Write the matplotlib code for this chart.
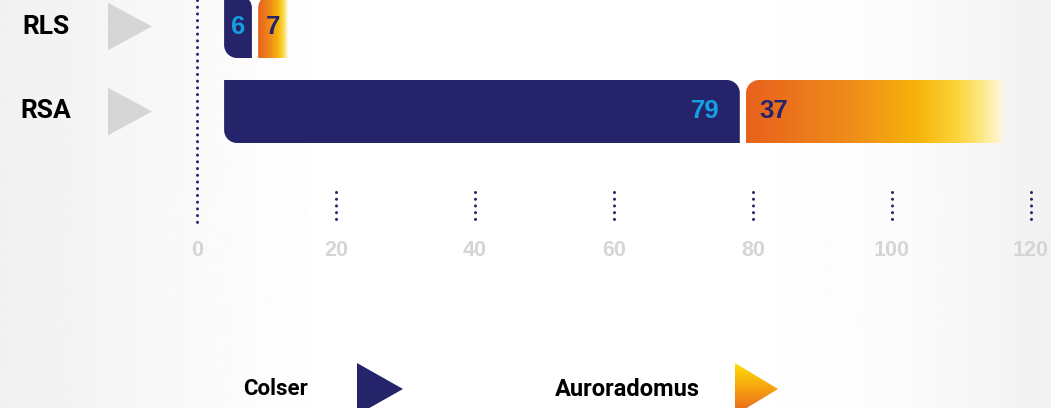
import numpy as np
import matplotlib
matplotlib.use("Agg")
import matplotlib.pyplot as plt
from matplotlib.path import Path
from matplotlib.patches import PathPatch, Polygon
from matplotlib.colors import LinearSegmentedColormap
from matplotlib import font_manager

# data
categories = ["RLS", "RSA"]
colser = [6, 79]
auroradomus = [7, 37]
series_names = ["Colser", "Auroradomus"]
x_ticks = [0, 20, 40, 60, 80, 100, 120]

# style
NAVY = "#25246b"
LIGHT_BLUE = "#159fe0"
TRI_GRAY = "#d6d6d6"
TICK_GRAY = "#d5d5d5"
LABEL_FONT = ["Roboto", "DejaVu Sans"]

installed = {f.name for f in font_manager.fontManager.ttflist}
if "Liberation Sans Narrow" in installed:
    NUM_FONT = ["Liberation Sans Narrow", "DejaVu Sans"]
    NARROW = True
else:
    NUM_FONT = ["Liberation Sans", "DejaVu Sans"]
    NARROW = False

W, H = 1051, 408
PX_PER_UNIT = 6.95     # horizontal pixels per value unit
ROW_PX = 85            # vertical pixels between rows
X0_PX = 197            # pixel of value 0
Y0_PX = 26.5           # pixel of first row

BAR_H = 63 / ROW_PX
INSET = 3.9            # bars start a little right of the axis
MIN_W = 4.0
GAP = 0.9
RX = 13 / PX_PER_UNIT
RY = 13 / ROW_PX

aurora_cmap = LinearSegmentedColormap.from_list(
    "aurora",
    [(0.0, "#e8611d"), (0.4, "#ef8b1a"), (0.67, "#f6b50a"),
     (0.82, "#fcd43a"), (0.92, "#fde98c"), (1.0, "#fdf8e2")],
)
tri_cmap = LinearSegmentedColormap.from_list(
    "tri", [(0.0, "#fde100"), (0.5, "#f5a011"), (1.0, "#e9601d")]
)


def rounded_bar(x0, x1, yc, h, corners):
    """Path of a bar with some rounded corners (visual top = smaller y)."""
    yt, yb = yc - h / 2, yc + h / 2
    r = {c: (RX, RY) if c in corners else (0.0, 0.0) for c in ("tl", "tr", "br", "bl")}
    k = 0.5523
    verts, codes = [], []

    def line(p):
        verts.append(p)
        codes.append(Path.LINETO)

    def curve(c1, c2, p):
        verts.extend([c1, c2, p])
        codes.extend([Path.CURVE4] * 3)

    verts.append((x0 + r["tl"][0], yt))
    codes.append(Path.MOVETO)
    line((x1 - r["tr"][0], yt))
    curve((x1 - r["tr"][0] * (1 - k), yt), (x1, yt + r["tr"][1] * (1 - k)),
          (x1, yt + r["tr"][1]))
    line((x1, yb - r["br"][1]))
    curve((x1, yb - r["br"][1] * (1 - k)), (x1 - r["br"][0] * (1 - k), yb),
          (x1 - r["br"][0], yb))
    line((x0 + r["bl"][0], yb))
    curve((x0 + r["bl"][0] * (1 - k), yb), (x0, yb - r["bl"][1] * (1 - k)),
          (x0, yb - r["bl"][1]))
    line((x0, yt + r["tl"][1]))
    curve((x0, yt + r["tl"][1] * (1 - k)), (x0 + r["tl"][0] * (1 - k), yt),
          (x0 + r["tl"][0], yt))
    verts.append((x0 + r["tl"][0], yt))
    codes.append(Path.CLOSEPOLY)
    return Path(verts, codes)


def px_x(px):
    return (px - X0_PX) / PX_PER_UNIT


def px_y(py):
    return (py - Y0_PX) / ROW_PX


def draw_background(ax):
    stops_x = [0.0, 0.25, 0.32, 0.7, 0.86, 1.0]
    stops_v = [0.945, 0.99, 1.0, 1.0, 0.985, 0.948]
    grad = np.interp(np.linspace(0, 1, 400), stops_x, stops_v)
    ax.imshow(grad[np.newaxis, :], cmap="gray", vmin=0, vmax=1, aspect="auto",
              extent=[0, 1, 0, 1], transform=ax.transAxes, zorder=0)


def draw_axis(ax):
    dot = dict(color=NAVY, lw=2.2, ls=(0, (0.01, 2.19)), dash_capstyle="round",
               zorder=2)
    ax.plot([0, 0], [px_y(0), px_y(223)], **dot)
    size = 17.5 if NARROW else 15.5
    for t in x_ticks:
        if t != 0:
            ax.plot([t, t], [px_y(192), px_y(220)], **dot)
        ax.text(t, px_y(250), str(t), ha="center", va="center", color=TICK_GRAY,
                fontsize=size, fontweight="bold", family=NUM_FONT, zorder=3)


def value_label(ax, x, y, text, color, ha):
    size = 21 if NARROW else 18.5
    ax.text(x, y, text, ha=ha, va="center", color=color, fontsize=size,
            fontweight="bold", family=NUM_FONT, zorder=4)


def draw_bars(ax):
    for i, (cat, vc, va) in enumerate(zip(categories, colser, auroradomus)):
        # category label and grey arrow
        ax.text(px_x(46), i, cat, ha="center", va="center", fontsize=19,
                fontweight="bold", family=LABEL_FONT, color="black", zorder=3)
        ax.add_patch(Polygon([(px_x(108), i - 0.28), (px_x(108), i + 0.28),
                              (px_x(152), i)], closed=True, color=TRI_GRAY,
                             lw=0, zorder=2))

        c_end = max(vc, INSET + MIN_W + GAP) - GAP
        a_start = c_end + GAP
        a_end = vc + va

        p = PathPatch(rounded_bar(INSET, c_end, i, BAR_H, {"bl", "tr"}),
                      facecolor=NAVY, edgecolor="none", zorder=2)
        ax.add_patch(p)

        p2 = PathPatch(rounded_bar(a_start, a_end, i, BAR_H, {"tl"}),
                       facecolor="none", edgecolor="none", zorder=2)
        ax.add_patch(p2)
        im = ax.imshow(np.linspace(0, 1, 256)[np.newaxis, :], cmap=aurora_cmap,
                       aspect="auto", extent=[a_start, a_end, i + BAR_H / 2,
                                              i - BAR_H / 2], zorder=2)
        im.set_clip_path(p2)

        if c_end - INSET > 8:
            value_label(ax, c_end - 2.85, i, str(vc), LIGHT_BLUE, "right")
        else:
            value_label(ax, (INSET + c_end) / 2, i, str(vc), LIGHT_BLUE, "center")
        if a_end - a_start > 8:
            value_label(ax, a_start + 1.9, i, str(va), NAVY, "left")
        else:
            value_label(ax, (a_start + a_end) / 2, i, str(va), NAVY, "center")


def draw_legend(ax):
    yc = px_y(389)
    half = 26 / ROW_PX
    ax.text(px_x(308), yc, series_names[0], ha="right", va="center", fontsize=16,
            fontweight="bold", family=LABEL_FONT, color="black", zorder=3)
    ax.add_patch(Polygon([(px_x(357), yc - half), (px_x(357), yc + half),
                          (px_x(403), yc)], closed=True, color=NAVY, lw=0,
                         zorder=3))

    ax.text(px_x(700), yc, series_names[1], ha="right", va="center",
            fontsize=17, fontweight="bold", family=LABEL_FONT, color="black",
            zorder=3)
    tri = Polygon([(px_x(735), yc - half), (px_x(735), yc + half),
                   (px_x(778), yc)], closed=True, facecolor="none", lw=0,
                  zorder=3)
    ax.add_patch(tri)
    im = ax.imshow(np.linspace(0, 1, 256)[:, np.newaxis], cmap=tri_cmap,
                   aspect="auto", extent=[px_x(735), px_x(778), yc + half,
                                          yc - half], zorder=3)
    im.set_clip_path(tri)


def main():
    fig = plt.figure(figsize=(W / 100, H / 100), dpi=100)
    ax = fig.add_axes([0, 0, 1, 1])
    ax.set_axis_off()

    draw_background(ax)
    draw_axis(ax)
    draw_bars(ax)
    draw_legend(ax)

    ax.set_xlim(px_x(0), px_x(W))
    ax.set_ylim(px_y(H), px_y(0))

    fig.savefig("out.png", dpi=100)
    plt.close(fig)


if __name__ == "__main__":
    main()
